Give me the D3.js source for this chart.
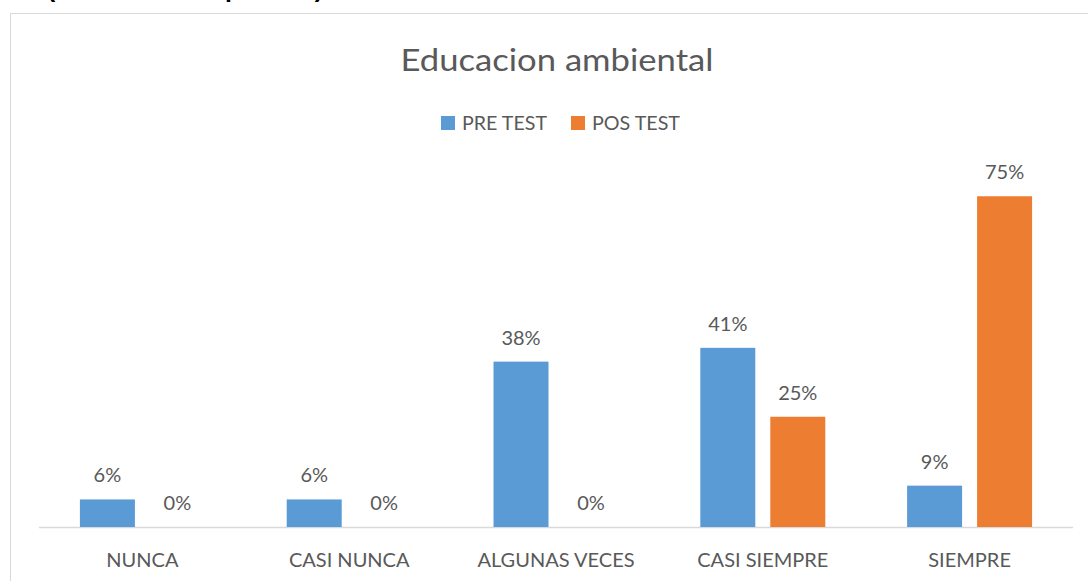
<!DOCTYPE html>
<html>
<head>
<meta charset="utf-8">
<script src="https://cdn.jsdelivr.net/npm/d3@7"></script>
<style>
html,body{margin:0;padding:0;background:#fff;}
svg{display:block;}
</style>
</head>
<body>
<svg id="chart" width="1088" height="581"></svg>
<script>
const categories = ["NUNCA", "CASI NUNCA", "ALGUNAS VECES", "CASI SIEMPRE", "SIEMPRE"];
const seriesNames = ["PRE TEST", "POS TEST"];
const preTest = [6.25, 6.25, 37.5, 40.625, 9.375];
const posTest = [0, 0, 0, 25, 75];
const seriesColors = ["#5B9BD5", "#ED7D31"];
const titleText = "Educacion ambiental";

const values = [preTest, posTest];
const svg = d3.select("#chart");
const textColor = "#595959";
const font = "Lato, 'Open Sans', sans-serif";

// partially visible caption above the chart (cut off at the top, as in the reference)
svg.append("text")
  .attr("x", 47).attr("y", -3)
  .attr("font-family", "'Liberation Sans', Arial, sans-serif")
  .attr("font-size", 24).attr("font-weight", "bold").attr("fill", "#000")
  .attr("textLength", 276).attr("lengthAdjust", "spacingAndGlyphs")
  .text("(Resultado del pre test)");

// chart frame
svg.append("rect")
  .attr("x", 10.5).attr("y", 13.5).attr("width", 1100).attr("height", 600)
  .attr("fill", "#fff").attr("stroke", "#d9d9d9").attr("stroke-width", 1);

const x0 = d3.scaleBand().domain(categories).range([39, 1073])
  .paddingInner(0.3956).paddingOuter(0.1978);
const x1 = d3.scaleBand().domain(seriesNames).range([0, x0.bandwidth()])
  .paddingInner(15 / 70).paddingOuter(0);
const y = d3.scaleLinear().domain([0, 80]).range([527, 527 - 80 * 4.41]);

// title
svg.append("text")
  .attr("x", 557).attr("y", 71).attr("text-anchor", "middle")
  .attr("font-family", font).attr("font-size", 31).attr("fill", textColor)
  .attr("textLength", 313).attr("lengthAdjust", "spacingAndGlyphs")
  .text(titleText);

// legend
const legendX = [441, 571];
const legendTextLen = [85, 88];
seriesNames.forEach((s, i) => {
  svg.append("rect").attr("x", legendX[i]).attr("y", 116).attr("width", 14).attr("height", 14)
    .attr("fill", seriesColors[i]);
  svg.append("text").attr("x", legendX[i] + 21).attr("y", 130)
    .attr("font-family", font).attr("font-size", 19).attr("fill", textColor)
    .attr("textLength", legendTextLen[i]).attr("lengthAdjust", "spacingAndGlyphs")
    .text(s);
});

// axis baseline
svg.append("line").attr("x1", 39).attr("x2", 1073).attr("y1", 527.5).attr("y2", 527.5)
  .attr("stroke", "#d9d9d9").attr("stroke-width", 1.5);

// bars and labels
const groups = svg.append("g").selectAll("g").data(categories).join("g")
  .attr("transform", c => `translate(${x0(c)},0)`);

seriesNames.forEach((s, si) => {
  groups.append("rect")
    .attr("x", x1(s))
    .attr("y", (c, ci) => y(values[si][ci]))
    .attr("width", x1.bandwidth())
    .attr("height", (c, ci) => y(0) - y(values[si][ci]))
    .attr("fill", seriesColors[si]);
  groups.append("text")
    .attr("x", x1(s) + x1.bandwidth() / 2)
    .attr("y", (c, ci) => y(values[si][ci]) - 17)
    .attr("text-anchor", "middle")
    .attr("font-family", font).attr("font-size", 20).attr("fill", textColor)
    .text((c, ci) => Math.round(values[si][ci]) + "%");
});

// category labels
const xAxis = svg.append("g").attr("transform", "translate(0,527)")
  .call(d3.axisBottom(x0).tickSize(0).tickPadding(0));
xAxis.select(".domain").remove();
xAxis.selectAll("text")
  .attr("y", 40).attr("dy", null)
  .attr("font-family", font).attr("font-size", 20).attr("fill", textColor);
</script>
</body>
</html>
